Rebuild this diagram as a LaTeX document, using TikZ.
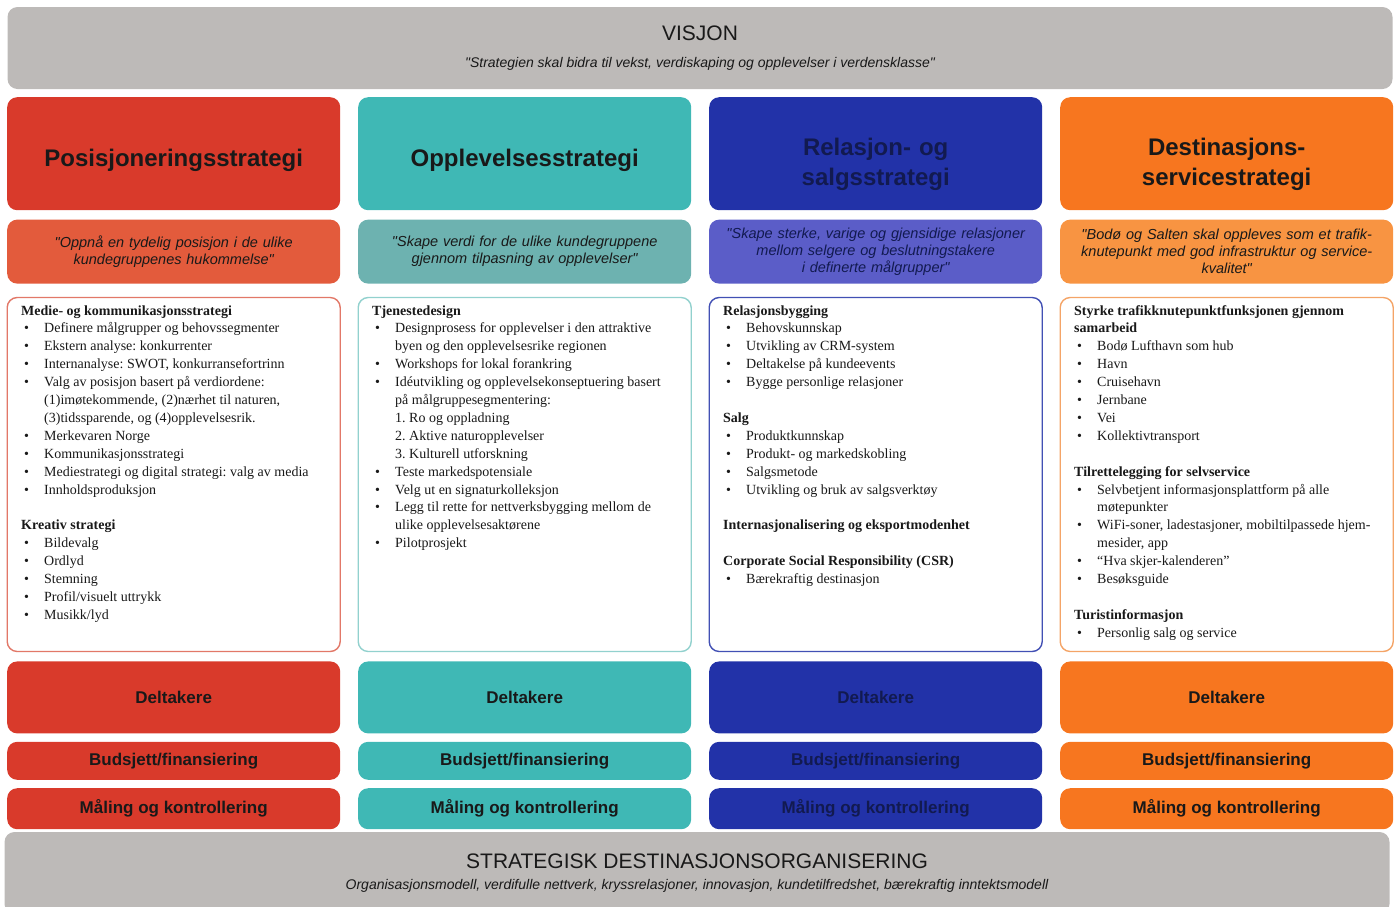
\documentclass[tikz,border=0pt]{standalone}
\usepackage{fontspec}
\setmainfont{Liberation Serif}
\setsansfont{Liberation Sans}[Ligatures=TeXOff]
\usetikzlibrary{positioning}

% colours
\definecolor{gra}{HTML}{BDBAB8}
\definecolor{rod}{HTML}{D93A2B}
\definecolor{rodlys}{HTML}{E35B3C}
\definecolor{rodkant}{HTML}{E27868}
\definecolor{turkis}{HTML}{3FB8B5}
\definecolor{turkislys}{HTML}{6DB2B0}
\definecolor{turkiskant}{HTML}{92D1CE}
\definecolor{bla}{HTML}{2232A8}
\definecolor{blalys}{HTML}{5B5DC8}
\definecolor{blakant}{HTML}{4250B4}
\definecolor{oransje}{HTML}{F7761F}
\definecolor{oransjelys}{HTML}{F89442}
\definecolor{oransjekant}{HTML}{F4A467}
\definecolor{tekstbla}{HTML}{121A50}

% list helpers
\newcommand{\overskr}[1]{\par\noindent\strut\textbf{#1}}
\newcommand{\pkt}[1]{\par\hangindent=23pt\hangafter=1\noindent\hbox to 23pt{\hskip3pt\textbullet\hfil}#1}
\newcommand{\luft}{\par\vskip17.9pt}
\newcommand{\listetekst}[1]{\parbox[t][340pt][t]{305pt}{\fontsize{14}{17.9}\selectfont\frenchspacing\raggedright\vspace*{-2pt}#1}}

\tikzset{
    %Define style for the grey banners
    banner/.style={
           rectangle,
           rounded corners=10pt,
           fill=gra,
           minimum width=1385pt,
           minimum height=82pt,
           align=center,
           font=\sffamily},
    %Define style for the coloured heads
    hode/.style={
           rectangle,
           rounded corners=10pt,
           fill=#1,
           minimum width=333pt,
           minimum height=113pt,
           text width=310pt,
           text height=39pt,
           text depth=13pt,
           align=center,
           font=\sffamily\bfseries\fontsize{24}{30}\selectfont},
    % two lines in a head
    tolinjer/.style={
           text height=32pt,
           text depth=28pt},
    % Define style for the quotes
    sitat/.style={
           rectangle,
           rounded corners=10pt,
           fill=#1,
           minimum width=333pt,
           minimum height=64pt,
           text width=325pt,
           align=center,
           font=\sffamily\itshape\fontsize{14.5}{17}\selectfont},
    % Define style for the white lists
    liste/.style={
           rectangle,
           rounded corners=10pt,
           draw=#1,
           line width=1.4pt,
           fill=white,
           minimum width=333pt,
           minimum height=354pt,
           inner xsep=14pt,
           inner ysep=0pt},
    % Define style for the small fields
    felt/.style={
           rectangle,
           rounded corners=10pt,
           fill=#1,
           minimum width=333pt,
           font=\sffamily\bfseries\fontsize{17}{20}\selectfont},
}

\begin{document}
\begin{tikzpicture}[x=1pt, y=-1pt, text=black!90]
  \useasboundingbox (0,0) rectangle (1397,906);

  \node[banner] (visjon) at (700,48) {{\fontsize{21}{24}\selectfont VISJON}\\[15pt]
    {\itshape\fontsize{14}{15}\selectfont "Strategien skal bidra til vekst, verdiskaping og opplevelser i verdensklasse"}};

  % Posisjoneringsstrategi
  \node[hode=rod, anchor=north west] (pos) at (7,97) {Posisjoneringsstrategi};
  \node[sitat=rodlys, below=9pt of pos] (posSitat) {"Oppnå en tydelig posisjon i de ulike\\ kundegruppenes hukommelse"};
  \node[liste=rodkant, below=13pt of posSitat] (posListe) {\listetekst{%
    \overskr{Medie- og kommunikasjonsstrategi}
    \pkt{Definere målgrupper og behovssegmenter}
    \pkt{Ekstern analyse: konkurrenter}
    \pkt{Internanalyse: SWOT, konkurransefortrinn}
    \pkt{Valg av posisjon basert på verdiordene:\newline (1)imøtekommende, (2)nærhet til naturen,\newline (3)tidssparende, og (4)opplevelsesrik.}
    \pkt{Merkevaren Norge}
    \pkt{Kommunikasjonsstrategi}
    \pkt{Mediestrategi og digital strategi: valg av media}
    \pkt{Innholdsproduksjon}
    \luft
    \overskr{Kreativ strategi}
    \pkt{Bildevalg}
    \pkt{Ordlyd}
    \pkt{Stemning}
    \pkt{Profil/visuelt uttrykk}
    \pkt{Musikk/lyd}}};
  \node[felt=rod, minimum height=72pt, below=9pt of posListe] (posDelt) {Deltakere};
  \node[felt=rod, minimum height=38pt, below=8pt of posDelt] (posBud) {Budsjett/finansiering};
  \node[felt=rod, minimum height=41pt, below=8pt of posBud] (posMal) {Måling og kontrollering};

  % Opplevelsesstrategi
  \node[hode=turkis, anchor=north west] (opp) at (358,97) {Opplevelsesstrategi};
  \node[sitat=turkislys, below=9pt of opp] (oppSitat) {"Skape verdi for de ulike kundegruppene\\ gjennom tilpasning av opplevelser"};
  \node[liste=turkiskant, below=13pt of oppSitat] (oppListe) {\listetekst{%
    \overskr{Tjenestedesign}
    \pkt{Designprosess for opplevelser i den attraktive\newline byen og den opplevelsesrike regionen}
    \pkt{Workshops for lokal forankring}
    \pkt{Idéutvikling og opplevelsekonseptuering basert\newline på målgruppesegmentering:\newline 1. Ro og oppladning\newline 2. Aktive naturopplevelser\newline 3. Kulturell utforskning}
    \pkt{Teste markedspotensiale}
    \pkt{Velg ut en signaturkolleksjon}
    \pkt{Legg til rette for nettverksbygging mellom de\newline ulike opplevelsesaktørene}
    \pkt{Pilotprosjekt}}};
  \node[felt=turkis, minimum height=72pt, below=9pt of oppListe] (oppDelt) {Deltakere};
  \node[felt=turkis, minimum height=38pt, below=8pt of oppDelt] (oppBud) {Budsjett/finansiering};
  \node[felt=turkis, minimum height=41pt, below=8pt of oppBud] (oppMal) {Måling og kontrollering};

  % Relasjon- og salgsstrategi
  \node[hode=bla, tolinjer, text=tekstbla, anchor=north west] (rel) at (709,97) {Relasjon- og\\ salgsstrategi};
  \node[sitat=blalys, text=tekstbla, below=9pt of rel] (relSitat) {"Skape sterke, varige og gjensidige relasjoner\\ mellom selgere og beslutningstakere\\ i definerte målgrupper"};
  \node[liste=blakant, below=13pt of relSitat] (relListe) {\listetekst{%
    \overskr{Relasjonsbygging}
    \pkt{Behovskunnskap}
    \pkt{Utvikling av CRM-system}
    \pkt{Deltakelse på kundeevents}
    \pkt{Bygge personlige relasjoner}
    \luft
    \overskr{Salg}
    \pkt{Produktkunnskap}
    \pkt{Produkt- og markedskobling}
    \pkt{Salgsmetode}
    \pkt{Utvikling og bruk av salgsverktøy}
    \luft
    \overskr{Internasjonalisering og eksportmodenhet}
    \luft
    \overskr{Corporate Social Responsibility (CSR)}
    \pkt{Bærekraftig destinasjon}}};
  \node[felt=bla, text=tekstbla, minimum height=72pt, below=9pt of relListe] (relDelt) {Deltakere};
  \node[felt=bla, text=tekstbla, minimum height=38pt, below=8pt of relDelt] (relBud) {Budsjett/finansiering};
  \node[felt=bla, text=tekstbla, minimum height=41pt, below=8pt of relBud] (relMal) {Måling og kontrollering};

  % Destinasjonsservicestrategi
  \node[hode=oransje, tolinjer, anchor=north west] (dest) at (1060,97) {Destinasjons-\\ servicestrategi};
  \node[sitat=oransjelys, below=9pt of dest] (destSitat) {"Bodø og Salten skal oppleves som et trafik-\\ knutepunkt med god infrastruktur og service-\\ kvalitet"};
  \node[liste=oransjekant, below=13pt of destSitat] (destListe) {\listetekst{%
    \overskr{Styrke trafikknutepunktfunksjonen gjennom\newline samarbeid}
    \pkt{Bodø Lufthavn som hub}
    \pkt{Havn}
    \pkt{Cruisehavn}
    \pkt{Jernbane}
    \pkt{Vei}
    \pkt{Kollektivtransport}
    \luft
    \overskr{Tilrettelegging for selvservice}
    \pkt{Selvbetjent informasjonsplattform på alle\newline møtepunkter}
    \pkt{WiFi-soner, ladestasjoner, mobiltilpassede hjem-\newline mesider, app}
    \pkt{“Hva skjer-kalenderen”}
    \pkt{Besøksguide}
    \luft
    \overskr{Turistinformasjon}
    \pkt{Personlig salg og service}}};
  \node[felt=oransje, minimum height=72pt, below=9pt of destListe] (destDelt) {Deltakere};
  \node[felt=oransje, minimum height=38pt, below=8pt of destDelt] (destBud) {Budsjett/finansiering};
  \node[felt=oransje, minimum height=41pt, below=8pt of destBud] (destMal) {Måling og kontrollering};

  \node[banner] (org) at (697,873) {{\fontsize{21}{24}\selectfont STRATEGISK DESTINASJONSORGANISERING}\\[9pt]
    {\itshape\fontsize{14}{15}\selectfont Organisasjonsmodell, verdifulle nettverk, kryssrelasjoner, innovasjon, kundetilfredshet, bærekraftig inntektsmodell}};
\end{tikzpicture}
\end{document}
